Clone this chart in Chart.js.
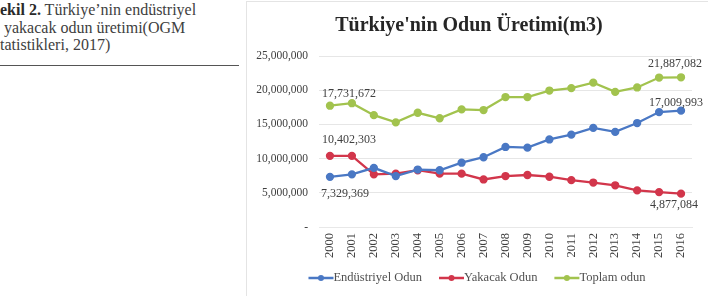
<!DOCTYPE html>
<html>
<head>
<meta charset="utf-8">
<script src="https://cdn.jsdelivr.net/npm/chart.js@4/dist/chart.umd.min.js"></script>
<style>
  html,body{margin:0;padding:0;background:#fff;}
  body{width:708px;height:296px;position:relative;overflow:hidden;}
  #caption{position:absolute;left:0;top:1px;width:244px;font-family:'Liberation Serif','Times New Roman',serif;font-size:16px;line-height:17.5px;color:#404040;white-space:nowrap;}
  #caption b{color:#2a2a2a;}
  #rule{position:absolute;left:0;top:65px;width:239px;height:0;border-top:1.5px solid #555;}
  #box{position:absolute;left:246px;top:1px;width:462px;height:295px;border-left:1px solid #e4e4e4;border-top:1px solid #e4e4e4;box-sizing:border-box;}
  #box canvas{position:absolute;left:-1px;top:-1px;}
</style>
</head>
<body>
<div id="caption"><b>ekil 2.</b> Türkiye’nin endüstriyel<br>&nbsp;yakacak odun üretimi(OGM<br>tatistikleri, 2017)</div>
<div id="rule"></div>
<div id="box"><canvas id="odun-chart" width="462" height="296"></canvas></div>
<script>
/* ── data ── */
var years = ['2000','2001','2002','2003','2004','2005','2006','2007','2008','2009','2010','2011','2012','2013','2014','2015','2016'];
var endustriyel = [7329369,7700000,8650000,7450000,8400000,8300000,9400000,10200000,11700000,11600000,12800000,13500000,14500000,13900000,15200000,16800000,17009993];
var yakacak = [10402303,10400000,7700000,7800000,8300000,7800000,7800000,6950000,7450000,7600000,7350000,6850000,6500000,6100000,5350000,5100000,4877084];
var toplam = [17731672,18100000,16350000,15300000,16700000,15900000,17200000,17100000,19000000,19000000,19950000,20300000,21100000,19750000,20400000,21850000,21887082];
var yTicks = [0,5000000,10000000,15000000,20000000,25000000];

var BLUE='#4a78c4', RED='#d2364b', GREEN='#a2c34e';
var SERIF='Liberation Serif, Times New Roman, serif';

function fmt(n){ return n.toLocaleString('en-US'); }

// first / last value labels
var valueLabels = {
  id:'valueLabels',
  afterDatasetsDraw:function(chart){
    var ctx=chart.ctx;
    var spots=[[0,0,-9,17],[1,0,-8,-16],[2,0,-8,-12],
               [0,16,-32,-8],[1,16,-31,11],[2,16,-33,-13]];
    ctx.save();
    ctx.font='12px '+SERIF;
    ctx.fillStyle='#404040';
    ctx.textBaseline='middle';
    ctx.textAlign='left';
    spots.forEach(function(s){
      var pt=chart.getDatasetMeta(s[0]).data[s[1]];
      var v=chart.data.datasets[s[0]].data[s[1]];
      ctx.fillText(fmt(v), pt.x+s[2], pt.y+s[3]);
    });
    ctx.restore();
  }
};

// Excel-like legend: line + dot icon, label right after it
var lineLegend = {
  id:'lineLegend',
  afterDraw:function(chart){
    var ctx=chart.ctx, sets=chart.data.datasets;
    var icon=25, gap=17, y=277;
    ctx.save();
    ctx.font='12.5px '+SERIF;
    ctx.textBaseline='middle';
    var widths=sets.map(function(d){ return icon+ctx.measureText(d.label).width; });
    var total=widths.reduce(function(a,b){return a+b;},0)+gap*(sets.length-1);
    var x=chart.width/2-total/2;
    sets.forEach(function(d,i){
      ctx.strokeStyle=d.borderColor; ctx.lineWidth=2.5;
      ctx.beginPath(); ctx.moveTo(x,y); ctx.lineTo(x+icon,y); ctx.stroke();
      ctx.fillStyle=d.borderColor;
      ctx.beginPath(); ctx.arc(x+icon/2,y,3,0,Math.PI*2); ctx.fill();
      ctx.fillStyle='#505050'; ctx.textAlign='left';
      ctx.fillText(d.label,x+icon,y);
      x+=widths[i]+gap;
    });
    ctx.restore();
  }
};

function series(label,data,col){
  return {label:label,data:data,borderColor:col,backgroundColor:col,borderWidth:2.3,
    pointRadius:3,pointBackgroundColor:col,pointBorderColor:col,pointStyle:'circle',
    tension:0,fill:false};
}

new Chart(document.getElementById('odun-chart'),{
  type:'line',
  data:{
    labels:years,
    datasets:[
      series('Endüstriyel Odun',endustriyel,BLUE),
      series('Yakacak Odun',yakacak,RED),
      series('Toplam odun',toplam,GREEN)
    ]
  },
  plugins:[valueLabels,lineLegend],
  options:{
    responsive:false,
    animation:false,
    layout:{padding:{left:0,right:16,top:0,bottom:34}},
    plugins:{
      title:{display:true,text:"Türkiye'nin Odun Üretimi(m3)",color:'#262626',
        font:{family:SERIF,size:20,weight:'bold'},padding:{top:13,bottom:18}},
      legend:{display:false},
      tooltip:{enabled:false}
    },
    scales:{
      x:{offset:true,
        grid:{display:false,drawTicks:false},
        border:{display:true,color:'#e8e8e8',width:1},
        ticks:{minRotation:90,maxRotation:90,autoSkip:false,color:'#404040',padding:6,
          font:{family:SERIF,size:12.5}},
        afterFit:function(s){ s.height=36; }
      },
      y:{min:0,max:25000000,
        afterBuildTicks:function(s){ s.ticks=yTicks.map(function(v){return {value:v};}); },
        grid:{color:'#e6e6e6',drawTicks:false},
        border:{display:false},
        ticks:{padding:11,color:'#404040',
          font:{family:SERIF,size:11.5},
          callback:function(v){ return v===0?'-':fmt(v); }},
        afterFit:function(s){ s.width=73; }
      }
    }
  }
});
</script>
</body>
</html>
